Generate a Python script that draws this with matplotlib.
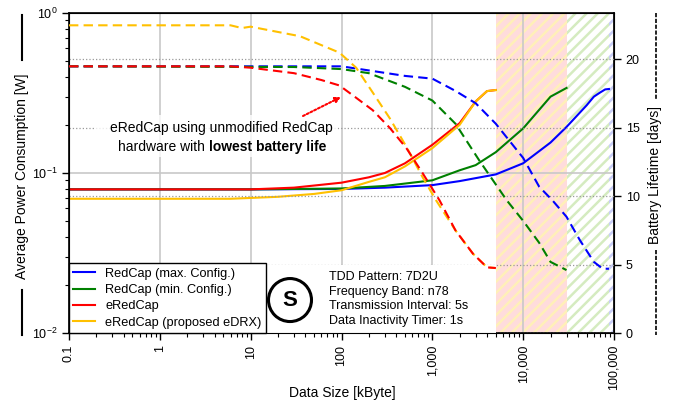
import matplotlib
matplotlib.use('Agg')
import matplotlib.pyplot as plt
from matplotlib.lines import Line2D
from matplotlib.patches import Rectangle, Ellipse
from matplotlib.ticker import FixedLocator, FixedFormatter, LogLocator, NullFormatter

plt.rcParams['font.family'] = ['Liberation Sans', 'DejaVu Sans']
plt.rcParams['mathtext.fontset'] = 'custom'
plt.rcParams['mathtext.rm'] = 'Liberation Sans'
plt.rcParams['hatch.linewidth'] = 1.8

# average power consumption [W] vs data size [kByte]
x_pw_max = [0.1, 10, 100, 300, 1000, 2000, 5000, 10000, 20000, 30000, 50000, 60000, 70000, 80000, 88000]
pw_max = [0.079, 0.079, 0.0795, 0.081, 0.084, 0.089, 0.098, 0.115, 0.155, 0.194, 0.265, 0.30, 0.318, 0.333, 0.335]

x_pw_min = [0.1, 10, 100, 300, 1000, 2000, 3000, 5000, 10000, 20000, 30000]
pw_min = [0.079, 0.079, 0.080, 0.083, 0.090, 0.104, 0.112, 0.135, 0.19, 0.30, 0.34]

x_pw_e = [0.1, 10, 30, 100, 200, 300, 500, 1000, 2000, 3000, 4000, 5000]
pw_e = [0.079, 0.079, 0.081, 0.087, 0.094, 0.100, 0.115, 0.150, 0.205, 0.280, 0.325, 0.330]

x_pw_edrx = [0.1, 6, 20, 50, 100, 200, 300, 500, 1000, 2000, 3000, 4000, 5000]
pw_edrx = [0.069, 0.069, 0.071, 0.074, 0.078, 0.088, 0.094, 0.110, 0.143, 0.200, 0.280, 0.325, 0.330]

# battery lifetime [days] vs data size [kByte]
x_bl_max = [0.1, 100, 200, 500, 1000, 1800, 3000, 5000, 10000, 15000, 21000, 30000, 42000, 60000, 75000, 88000]
bl_max = [19.5, 19.5, 19.2, 18.8, 18.6, 17.7, 16.8, 15.3, 12.8, 10.7, 9.7, 8.5, 6.8, 5.2, 4.7, 4.7]

x_bl_min = [0.1, 30, 100, 200, 500, 1000, 1800, 3300, 6600, 10000, 15000, 20000, 30000]
bl_min = [19.5, 19.45, 19.3, 19.0, 18.0, 17.0, 15.3, 12.6, 9.7, 8.2, 6.6, 5.2, 4.6]

x_bl_e = [0.1, 6, 10, 30, 60, 95, 145, 220, 340, 520, 780, 1200, 1800, 2800, 4000, 5000]
bl_e = [19.5, 19.5, 19.4, 19.0, 18.5, 18.1, 17.2, 16.3, 15.0, 13.5, 11.7, 9.7, 7.5, 5.8, 4.8, 4.75]

x_bl_edrx = [0.1, 6, 8, 10, 35, 95, 145, 220, 340, 520, 780, 1100, 1800, 2800, 4000, 5000]
bl_edrx = [22.5, 22.5, 22.3, 22.4, 21.7, 20.5, 19.4, 17.6, 15.7, 13.6, 11.4, 9.7, 7.5, 5.8, 4.8, 4.75]

labels = ['RedCap (max. Config.)', 'RedCap (min. Config.)', 'eRedCap', 'eRedCap (proposed eDRX)']
colors = ['#0000FF', '#008000', '#FF0000', '#FFC000']

# shaded ranges where a variant can no longer deliver the data
span_e = (5000, 30000)
span_min = (30000, 88000)
span_max = (88000, 100000)

fig = plt.figure(figsize=(6.75, 4.05), dpi=100)
ax = fig.add_axes([69/675, 1-333/405, 545/675, 320/405])
ax.set_xscale('log')
ax.set_yscale('log')
ax.set_xlim(0.1, 100000)
ax.set_ylim(0.01, 1)

ax.axvspan(*span_e, facecolor='#FFDCDC', edgecolor='#FFF0B8', hatch='///', lw=0, zorder=0.3)
ax.axvspan(*span_min, facecolor='white', edgecolor='#D5EBC0', hatch='///', lw=0, zorder=0.3)
ax.axvspan(*span_max, facecolor='white', edgecolor='#C8CDF6', hatch='///', lw=0, zorder=0.3)

ax.grid(which='major', color='#C8C8C8', lw=1.2)

h1, = ax.plot(x_pw_max, pw_max, color=colors[0], lw=1.5)
h2, = ax.plot(x_pw_min, pw_min, color=colors[1], lw=1.5)
h3, = ax.plot(x_pw_e, pw_e, color=colors[2], lw=1.5)
h4, = ax.plot(x_pw_edrx, pw_edrx, color=colors[3], lw=1.5)

xt = [0.1, 1, 10, 100, 1000, 10000, 100000]
ax.xaxis.set_major_locator(FixedLocator(xt))
ax.xaxis.set_major_formatter(FixedFormatter(['0.1', '1', '10', '100', '1,000', '10,000', '100,000']))
ax.xaxis.set_minor_locator(LogLocator(base=10, subs=range(2, 10), numticks=20))
ax.xaxis.set_minor_formatter(NullFormatter())
ax.yaxis.set_major_locator(FixedLocator([0.01, 0.1, 1]))
ax.yaxis.set_major_formatter(FixedFormatter(['$10^{-2}$', '$10^{-1}$', '$10^{0}$']))
ax.yaxis.set_minor_locator(LogLocator(base=10, subs=range(2, 10), numticks=20))
ax.yaxis.set_minor_formatter(NullFormatter())
ax.tick_params(axis='x', which='major', labelrotation=90, labelsize=9, length=5, width=1)
ax.tick_params(axis='x', which='minor', length=3, width=0.8)
ax.tick_params(axis='y', which='major', labelsize=9, length=5, width=1)
ax.tick_params(axis='y', which='minor', length=3, width=0.8)
for s in ax.spines.values():
    s.set_linewidth(1.2)

ax2 = ax.twinx()
ax2.set_ylim(0, 23.4)
ax2.set_yticks([0, 5, 10, 15, 20])
ax2.tick_params(axis='y', labelsize=9, length=5, width=1)
ax2.grid(axis='y', ls=':', color='#999999', lw=0.9)

dash = (4.5, 2.5)
ax2.plot(x_bl_max, bl_max, color=colors[0], lw=1.5, dashes=dash, zorder=3)
ax2.plot(x_bl_min, bl_min, color=colors[1], lw=1.5, dashes=dash, zorder=3)
ax2.plot(x_bl_edrx, bl_edrx, color=colors[3], lw=1.5, dashes=dash, zorder=3)
ax2.plot(x_bl_e, bl_e, color=colors[2], lw=1.5, dashes=dash, zorder=3)

# white panel behind the scenario info
ax2.add_patch(Rectangle((0.36, 0), 0.423, 0.2125, transform=ax2.transAxes,
                        facecolor='white', edgecolor='none', zorder=2.5))
ax2.add_patch(Ellipse((0.4055, 0.103), 43/545, 43/320, transform=ax2.transAxes,
                      facecolor='white', edgecolor='black', lw=2.2, zorder=6))
ax2.text(0.4055, 0.103, 'S', transform=ax2.transAxes, ha='center', va='center',
         fontsize=16, fontweight='bold', zorder=7)
ax2.text(0.477, 0.106, 'TDD Pattern: 7D2U\nFrequency Band: n78\nTransmission Interval: 5s\nData Inactivity Timer: 1s',
         transform=ax2.transAxes, ha='left', va='center', fontsize=9, linespacing=1.3, zorder=7)

leg = ax2.legend([h1, h2, h3, h4], labels, loc='lower left', bbox_to_anchor=(0, 0), borderaxespad=0,
                 fancybox=False, edgecolor='black', framealpha=1, fontsize=9.2, handlelength=1.7,
                 handletextpad=0.8, labelspacing=0.33, borderpad=0.35)
leg.get_frame().set_linewidth(1.0)
leg.set_zorder(8)

# annotation for eRedCap
ax2.add_patch(Rectangle((0.048, 0.55), 0.446, 0.131, transform=ax2.transAxes,
                        facecolor='white', edgecolor='none', alpha=0.8, zorder=4))
ax2.text(0.279, 0.64, 'eRedCap using unmodified RedCap', transform=ax2.transAxes,
         ha='center', va='center', fontsize=10, zorder=5)
ax2.text(0.2495, 0.581, 'hardware with', transform=ax2.transAxes,
         ha='right', va='center', fontsize=10, zorder=5)
ax2.text(0.256, 0.581, 'lowest battery life', transform=ax2.transAxes,
         ha='left', va='center', fontsize=10, fontweight='bold', zorder=5)
ax2.annotate('', xy=(341, 405-97), xytext=(303, 405-116), xycoords='figure pixels',
             textcoords='figure pixels',
             arrowprops=dict(arrowstyle='-|>', color='#FF0000', lw=1.5, linestyle=(0, (1, 1)),
                             mutation_scale=8, shrinkA=0, shrinkB=0), zorder=5)

# axis labels with line style markers
fig.text(342/675, 1-393/405, 'Data Size [kByte]', ha='center', va='center', fontsize=10)
fig.text(22/675, 1-176/405, 'Average Power Consumption [W]', rotation=90, ha='center', va='center', fontsize=10)
fig.add_artist(Line2D([22/675, 22/675], [1-15/405, 1-60/405], color='black', lw=1.5))
fig.add_artist(Line2D([22/675, 22/675], [1-290/405, 1-335/405], color='black', lw=1.5))
fig.text(655/675, 1-175/405, 'Battery Lifetime [days]', rotation=90, ha='center', va='center', fontsize=10)
fig.add_artist(Line2D([656/675, 656/675], [1-13/405, 1-100/405], color='black', lw=1.2, dashes=(2.5, 1)))
fig.add_artist(Line2D([656/675, 656/675], [1-250/405, 1-335/405], color='black', lw=1.2, dashes=(2.5, 1)))

fig.savefig('out.png', dpi=100)
